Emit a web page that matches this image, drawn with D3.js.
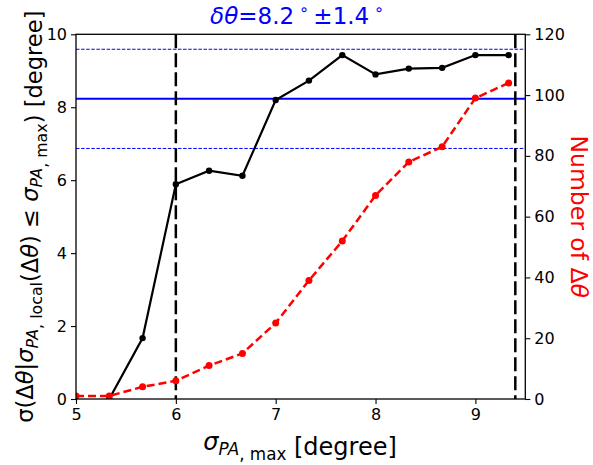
<!DOCTYPE html>
<html><head><meta charset="utf-8">
<script src="https://cdn.jsdelivr.net/npm/d3@7"></script>
<style>body{margin:0;background:#fff}svg{display:block}text{font-family:"DejaVu Sans",sans-serif}</style>
</head><body><svg id="c" width="593" height="465"></svg>
<script>
const xVals = [5, 5.333, 5.667, 6, 6.333, 6.667, 7, 7.333, 7.667, 8, 8.333, 8.667, 9, 9.333];
const sigmaVals = [null, 0, 1.67, 5.89, 6.26, 6.12, 8.2, 8.73, 9.43, 8.90, 9.06, 9.08, 9.43, 9.43];
const countVals = [1, 1, 4, 6, 11, 15, 25, 39, 52, 67, 78, 83, 99, 104];
const meanVal = 8.23, stdVal = 1.36;
const vLines = [6.0, 9.4];
const xTicks = [5, 6, 7, 8, 9];
const yTicks = [0, 2, 4, 6, 8, 10];
const y2Ticks = [0, 20, 40, 60, 80, 100, 120];

const svg = d3.select('#c');
const L = 76, R = 525.3, T = 34.3, B = 399;
const x = d3.scaleLinear().domain([5, 9.5]).range([L, R]);
const y = d3.scaleLinear().domain([0, 10]).range([B, T]);
const y2 = d3.scaleLinear().domain([0, 120]).range([B, T]);

svg.append('defs').append('clipPath').attr('id', 'clip')
  .append('rect').attr('x', L).attr('y', T).attr('width', R - L).attr('height', B - T);
const g = svg.append('g').attr('clip-path', 'url(#clip)');

// blue mean and +/- std lines
g.append('line').attr('x1', L).attr('x2', R).attr('y1', y(meanVal)).attr('y2', y(meanVal))
  .attr('stroke', '#0000ff').attr('stroke-width', 2);
[meanVal + stdVal, meanVal - stdVal].forEach(v => {
  g.append('line').attr('x1', L).attr('x2', R).attr('y1', y(v)).attr('y2', y(v))
    .attr('stroke', '#0000ff').attr('stroke-width', 1).attr('stroke-dasharray', '3.5,1.6');
});
// vertical dashed lines
vLines.forEach(v => {
  g.append('line').attr('x1', x(v)).attr('x2', x(v)).attr('y1', T).attr('y2', B)
    .attr('stroke', '#000').attr('stroke-width', 2.5).attr('stroke-dasharray', '14,5');
});

// black series
const blk = xVals.map((d, i) => [d, sigmaVals[i]]).filter(d => d[1] !== null);
g.append('path').datum(blk)
  .attr('d', d3.line().x(d => x(d[0])).y(d => y(d[1])))
  .attr('fill', 'none').attr('stroke', '#000').attr('stroke-width', 2.2);
g.selectAll('.bm').data(blk).enter().append('circle')
  .attr('cx', d => x(d[0])).attr('cy', d => y(d[1])).attr('r', 3.2).attr('fill', '#000');

// red series
const red = xVals.map((d, i) => [d, countVals[i]]);
g.append('path').datum(red)
  .attr('d', d3.line().x(d => x(d[0])).y(d => y2(d[1])))
  .attr('fill', 'none').attr('stroke', '#ff0000').attr('stroke-width', 2.5).attr('stroke-dasharray', '8,4');
g.selectAll('.rm').data(red).enter().append('circle')
  .attr('cx', d => x(d[0])).attr('cy', d => y2(d[1])).attr('r', 3.5).attr('fill', '#ff0000');

// axes
const fs = '16px';
const ax = svg.append('g').attr('transform', `translate(0,${B})`)
  .call(d3.axisBottom(x).tickValues(xTicks).tickSize(5).tickPadding(5).tickFormat(d3.format('d')));
const ay = svg.append('g').attr('transform', `translate(${L},0)`)
  .call(d3.axisLeft(y).tickValues(yTicks).tickSize(5).tickPadding(4).tickFormat(d3.format('d')));
const ay2 = svg.append('g').attr('transform', `translate(${R},0)`)
  .call(d3.axisRight(y2).tickValues(y2Ticks).tickSize(5).tickPadding(4).tickFormat(d3.format('d')));
[ax, ay, ay2].forEach(a => {
  a.select('.domain').remove();
  a.selectAll('line').attr('stroke', '#000').attr('stroke-width', 1.1);
  a.selectAll('text').attr('font-size', fs).attr('fill', '#000')
    .attr('font-family', '"DejaVu Sans",sans-serif');
});
svg.append('rect').attr('x', L).attr('y', T).attr('width', R - L).attr('height', B - T)
  .attr('fill', 'none').attr('stroke', '#000').attr('stroke-width', 1.3);

// rich text helper
function rich(sel, parts, size) {
  parts.forEach(p => {
    const s = sel.append('tspan').text(p.t);
    if (p.i) s.attr('font-style', 'italic');
    if (p.sub) { s.attr('font-size', size * 0.7).attr('dy', size * 0.2); }
    if (p.sup) { s.attr('font-size', size * 0.7).attr('dy', -size * 0.38); }
    if (p.back) s.attr('dy', p.back * size);
  });
}

// title
const tt = svg.append('text').attr('x', 297).attr('y', 24).attr('text-anchor', 'middle')
  .attr('fill', '#0000ff').attr('font-size', 23);
rich(tt, [{t: 'δθ', i: 1}, {t: '=8.2\u2009'}, {t: '∘', sup: 1}, {t: '\u2009±1.4\u2009', back: 0.38}, {t: '∘', sup: 1}], 23);

// x label
const xl = svg.append('text').attr('x', 300).attr('y', 450).attr('text-anchor', 'middle')
  .attr('fill', '#000').attr('font-size', 24);
rich(xl, [{t: 'σ', i: 1}, {t: 'PA', i: 1, sub: 1}, {t: ', max', sub: 1}, {t: ' [degree]', back: -0.2}], 24);

// left y label
const yl = svg.append('text').attr('transform', 'translate(33,216.7) rotate(-90)').attr('text-anchor', 'middle')
  .attr('fill', '#000').attr('font-size', 22.6);
rich(yl, [{t: 'σ(Δ'}, {t: 'θ', i: 1}, {t: '|'}, {t: 'σ', i: 1}, {t: 'PA', i: 1, sub: 1}, {t: ', local', sub: 1},
  {t: '(Δ', back: -0.2}, {t: 'θ', i: 1}, {t: ') ≤ '}, {t: 'σ', i: 1}, {t: 'PA', i: 1, sub: 1}, {t: ', max', sub: 1},
  {t: ') [degree]', back: -0.2}], 22.6);

// right y label
const yr = svg.append('text').attr('transform', 'translate(571,216.7) rotate(90)').attr('text-anchor', 'middle')
  .attr('fill', '#ff0000').attr('font-size', 23.5);
rich(yr, [{t: 'Number of Δ'}, {t: 'θ', i: 1}], 23.5);
</script></body></html>
